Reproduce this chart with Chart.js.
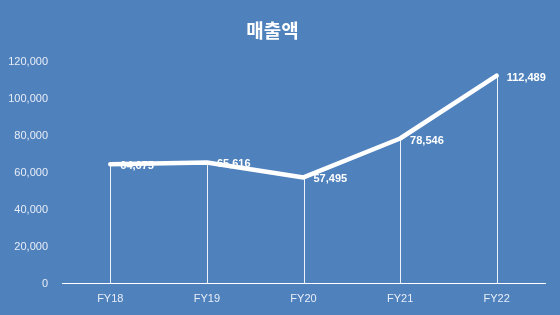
<!DOCTYPE html>
<html>
<head>
<meta charset="utf-8">
<script src="https://cdn.jsdelivr.net/npm/chart.js@4/dist/chart.umd.min.js"></script>
<style>
  html, body { margin: 0; padding: 0; background: #4F81BD; }
  #wrap { width: 560px; height: 315px; }
</style>
</head>
<body>
<div id="wrap"><canvas id="chart" width="560" height="315"></canvas></div>
<script>
const categories = ['FY18', 'FY19', 'FY20', 'FY21', 'FY22'];
const sales = [64675, 65616, 57495, 78546, 112489];
const yTicks = [0, 20000, 40000, 60000, 80000, 100000, 120000];
const chartTitle = '매출액';

const fmt = v => v.toLocaleString('en-US');

// vertical drop lines from each point down to the axis
const dropLines = {
  id: 'dropLines',
  beforeDatasetsDraw(chart) {
    const ctx = chart.ctx;
    const bottom = chart.chartArea.bottom;
    ctx.save();
    ctx.strokeStyle = 'rgba(255,255,255,0.9)';
    ctx.lineWidth = 1;
    chart.getDatasetMeta(0).data.forEach(pt => {
      const x = Math.round(pt.x) + 0.5;
      ctx.beginPath();
      ctx.moveTo(x, pt.y);
      ctx.lineTo(x, bottom);
      ctx.stroke();
    });
    ctx.restore();
  }
};

// value labels to the right of each point
const valueLabels = {
  id: 'valueLabels',
  afterDatasetsDraw(chart) {
    const ctx = chart.ctx;
    ctx.save();
    ctx.fillStyle = '#FFFFFF';
    ctx.font = 'bold 11px "Liberation Sans", Arial, sans-serif';
    ctx.textAlign = 'left';
    ctx.textBaseline = 'middle';
    chart.getDatasetMeta(0).data.forEach((pt, i) => {
      ctx.fillText(fmt(sales[i]), pt.x + 10, pt.y + 2);
    });
    ctx.restore();
  }
};

new Chart(document.getElementById('chart'), {
  type: 'line',
  data: {
    labels: categories,
    datasets: [{
      data: sales,
      borderColor: '#FFFFFF',
      borderWidth: 4.5,
      borderCapStyle: 'round',
      borderJoinStyle: 'round',
      pointRadius: 0,
      tension: 0,
      clip: false
    }]
  },
  options: {
    responsive: false,
    animation: false,
    layout: { padding: { left: 0, right: 15, top: 0, bottom: 0 } },
    plugins: {
      legend: { display: false },
      tooltip: { enabled: false },
      title: {
        display: true,
        text: chartTitle,
        color: '#FFFFFF',
        font: { family: '"Noto Sans CJK KR", sans-serif', size: 19, weight: 'bold' },
        padding: { top: 19, bottom: 20 }
      }
    },
    scales: {
      x: {
        offset: true,
        grid: { display: false, drawTicks: false },
        border: { display: true, color: '#FFFFFF', width: 1 },
        ticks: {
          color: '#E8EEF7',
          padding: 9,
          font: { family: '"Liberation Sans", Arial, sans-serif', size: 11 }
        }
      },
      y: {
        min: 0,
        max: 120000,
        afterFit(scale) { scale.width = 62; },
        afterBuildTicks(scale) { scale.ticks = yTicks.map(v => ({ value: v })); },
        grid: { display: false, drawTicks: false },
        border: { display: false },
        ticks: {
          color: '#E8EEF7',
          padding: 14,
          font: { family: '"Liberation Sans", Arial, sans-serif', size: 11 },
          callback: v => fmt(v)
        }
      }
    }
  },
  plugins: [dropLines, valueLabels]
});
</script>
</body>
</html>
